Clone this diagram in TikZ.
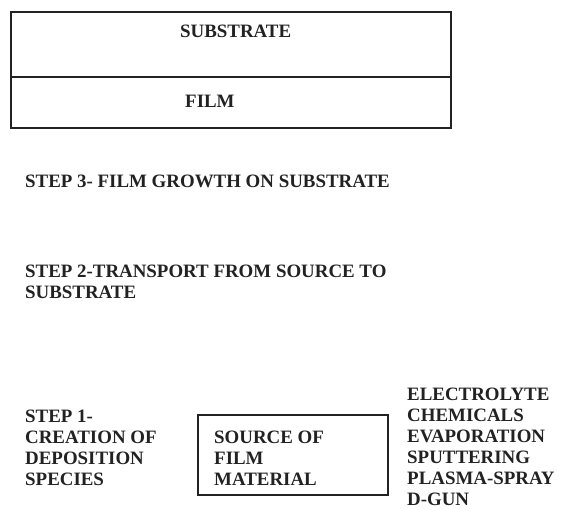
\documentclass[tikz,border=0pt]{standalone}
\usepackage{fontspec}
\setmainfont{Liberation Serif}
\usepackage{tikz}
\usetikzlibrary{positioning}
\definecolor{ink}{HTML}{222222}

\begin{document}
\begin{tikzpicture}[
      x=1pt, y=-1pt,
      layer/.style={draw=ink,line width=2pt,minimum width=440pt,inner sep=0pt,outer sep=0pt},
      srcbox/.style={draw=ink,line width=2pt,minimum width=190pt,minimum height=80pt,inner sep=0pt},
      lbl/.style={font=\bfseries\fontsize{18.9}{21}\selectfont,text=ink,inner sep=0pt,anchor=base west,align=left},
    ]
    \useasboundingbox (0,0) rectangle (561,509);
    % film on substrate
    \node[layer,minimum height=65pt,anchor=north west] (sub) at (11,12) {};
    \node[layer,minimum height=51pt,anchor=north] (film) at (sub.south) {};
    \node[lbl] (subtxt) at (180,37) {SUBSTRATE};
    \node[lbl] (filmtxt) at (185,107) {FILM};
  % the three steps (base = last line)
  \node[lbl] (step3) at (25,187) {STEP 3- FILM GROWTH ON SUBSTRATE};
  \node[lbl] (step2) at (25,298) {STEP 2-TRANSPORT FROM SOURCE TO\\SUBSTRATE};
  \node[lbl] (step1) at (25,485) {STEP 1-\\CREATION OF\\DEPOSITION\\SPECIES};
  \node[srcbox,anchor=north west] (src) at (197,414) {};
  \node[lbl] (srctxt) at (214,485) {SOURCE OF\\FILM\\MATERIAL};
  \node[lbl] (methods) at (407,505) {ELECTROLYTE\\CHEMICALS\\EVAPORATION\\SPUTTERING\\PLASMA-SPRAY\\D-GUN};
\end{tikzpicture}
\end{document}
